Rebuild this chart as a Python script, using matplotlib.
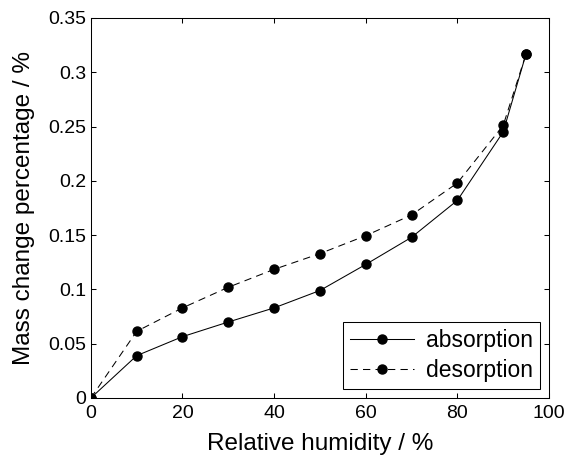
import matplotlib
matplotlib.use("Agg")
import matplotlib.pyplot as plt

rh = [0, 10, 20, 30, 40, 50, 60, 70, 80, 90, 95]
absorption = [0, 0.039, 0.0565, 0.070, 0.083, 0.099, 0.123, 0.148, 0.182, 0.245, 0.317]
desorption = [0, 0.0614, 0.083, 0.102, 0.1185, 0.133, 0.1495, 0.1686, 0.198, 0.251, 0.317]

plt.rcParams['font.family'] = ['Liberation Sans', 'DejaVu Sans']

fig = plt.figure(figsize=(5.68, 4.59), dpi=100)
ax = fig.add_axes([0.160, 0.1329, 0.8065, 0.8279])

ax.plot(rh, absorption, '-', color='black', lw=0.75, marker='o', ms=6.5, label='absorption')
ax.plot(rh, desorption, '--', color='black', lw=0.75, dashes=(7, 5), marker='o', ms=6.5, label='desorption')

ax.set_xlim(0, 100)
ax.set_ylim(0, 0.35)
ax.set_xticks([0, 20, 40, 60, 80, 100])
ax.set_yticks([0, 0.05, 0.1, 0.15, 0.2, 0.25, 0.3, 0.35])
ax.set_yticklabels(['0', '0.05', '0.1', '0.15', '0.2', '0.25', '0.3', '0.35'])
ax.tick_params(direction='in', top=True, right=True, labelsize=14, length=3.6, width=0.75)
ax.tick_params(axis='x', pad=5.2)
ax.tick_params(axis='y', pad=3.6)
for s in ax.spines.values():
    s.set_linewidth(0.75)

ax.set_xlabel('Relative humidity / %', fontsize=17.5, labelpad=8)
ax.set_ylabel('Mass change percentage / %', fontsize=17.5, labelpad=9)

leg = ax.legend(loc='lower right', fontsize=16.5, fancybox=False, edgecolor='black',
                framealpha=1, handlelength=2.8, handletextpad=0.5, labelspacing=0.3,
                borderpad=0.3, borderaxespad=0.4)
leg.get_frame().set_linewidth(0.75)

fig.savefig('out.png', dpi=100)
